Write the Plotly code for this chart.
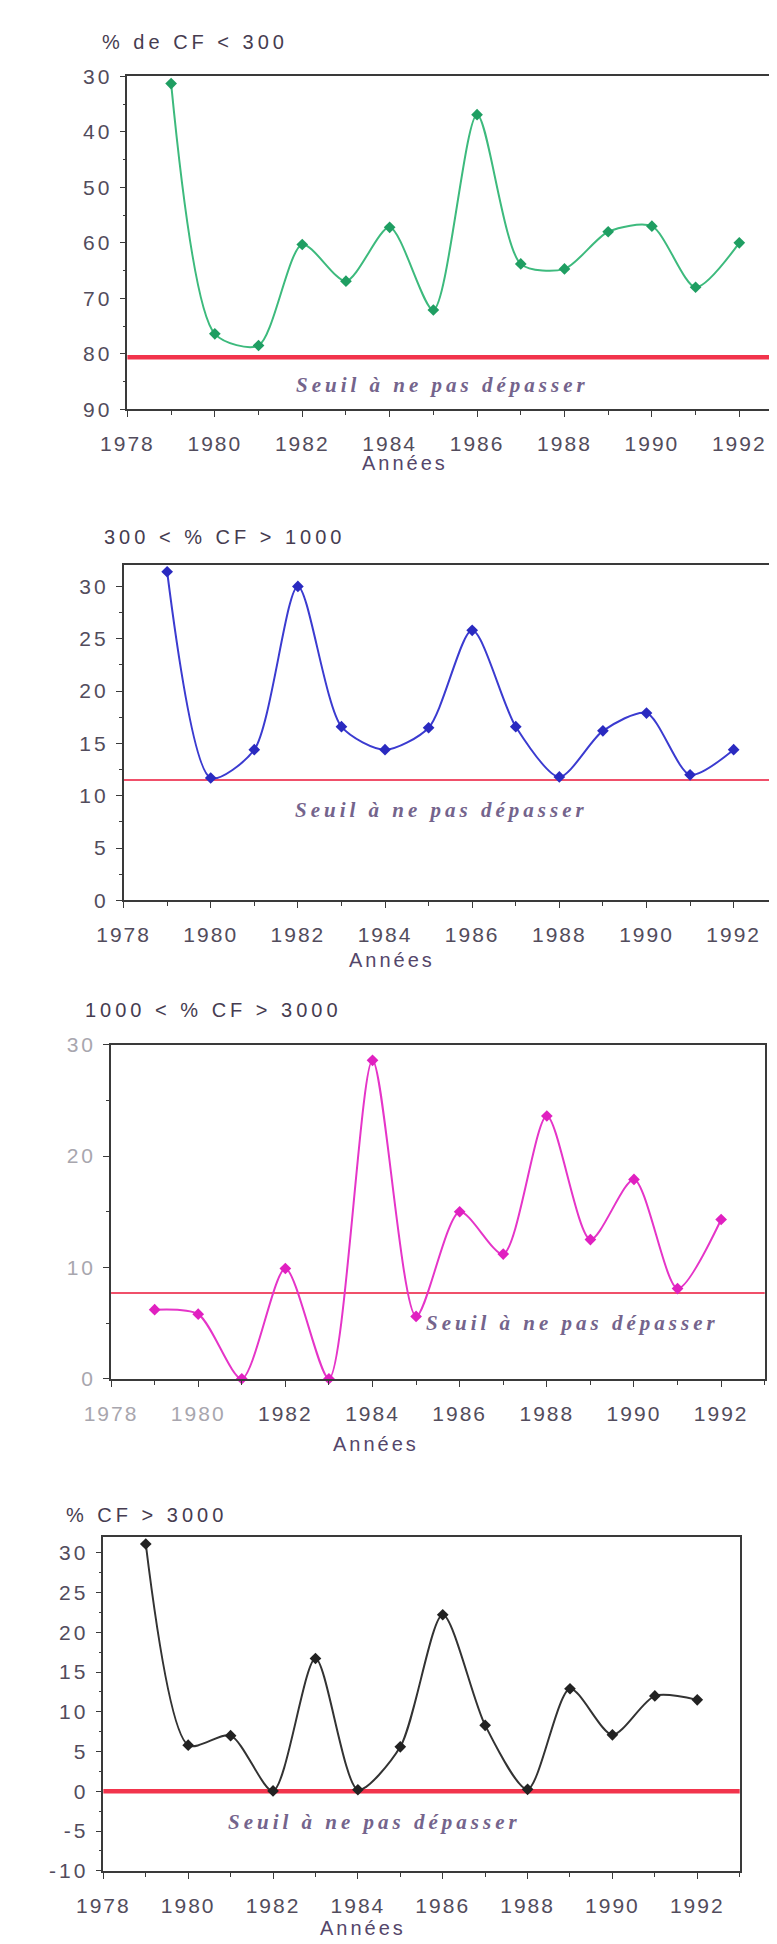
import plotly.graph_objects as go

# ---------------- data ----------------
years = list(range(1979, 1993))
pct_cf_lt_300 = [31.3, 76.4, 78.5, 60.3, 66.9, 57.2, 72.1, 36.9, 63.8, 64.7, 58.0, 57.0, 68.0, 60.0]
pct_cf_300_1000 = [31.4, 11.7, 14.4, 30.0, 16.6, 14.4, 16.5, 25.8, 16.6, 11.8, 16.2, 17.9, 12.0, 14.4]
pct_cf_1000_3000 = [6.2, 5.8, 0.0, 9.9, 0.0, 28.6, 5.6, 15.0, 11.2, 23.6, 12.5, 17.9, 8.1, 14.3]
pct_cf_gt_3000 = [31.1, 5.8, 7.0, 0.05, 16.7, 0.2, 5.6, 22.2, 8.3, 0.25, 12.9, 7.1, 12.0, 11.5]
thresholds = [80.6, 11.5, 7.7, 0.0]
titles = ["% de CF < 300", "300 < % CF > 1000", "1000 < % CF > 3000", "% CF > 3000"]
year_ticks = list(range(1978, 1993, 2))
x_label = "Années"
threshold_label = "Seuil à ne pas dépasser"

series = [pct_cf_lt_300, pct_cf_300_1000, pct_cf_1000_3000, pct_cf_gt_3000]

# ---------------- layout / style ----------------
W, H = 777, 1944
panels = [
    dict(left=96, right=777, top=57, bottom=394, yrange=[90, 30], dtick=10, minor=5,
         line="#3dba7d", marker="#1f9e62", thr_w=4.5, thr_c="#f2344c",
         seuil=(1985.2, 85.6), title=(68, 22), xlab=(384, 448), faded=False),
    dict(left=92, right=771, top=552, bottom=891, yrange=[0, 32], dtick=5, minor=2.5,
         line="#3b3bd0", marker="#2a2ac0", thr_w=2, thr_c="#f0506a",
         seuil=(1985.3, 8.6), title=(70, 523), xlab=(371, 951), faded=False),
    dict(left=79, right=758, top=1037, bottom=1375, yrange=[0, 30], dtick=10, minor=5,
         line="#e535c8", marker="#e020c0", thr_w=2, thr_c="#f0506a",
         seuil=(1988.6, 5.0), title=(50, 1002), xlab=(354, 1441), faded=True),
    dict(left=71, right=732, top=1535, bottom=1873, yrange=[-10, 32], dtick=5, minor=2.5,
         line="#333333", marker="#222222", thr_w=4.5, thr_c="#f2344c",
         seuil=(1984.4, -3.8), title=(30, 1513), xlab=(341, 1931), faded=False),
]

LABEL_C = "#524c5c"
FADED_C = "#a8a6ae"


def sp(text, ls, color=None):
    style = f"letter-spacing:{ls}px"
    if color:
        style += f";fill:{color}"
    return f'<span style="{style}">{text}</span>'


fig = go.Figure()
annotations = []
shapes = []
for i, (vals, p) in enumerate(zip(series, panels)):
    n = "" if i == 0 else str(i + 1)
    xa, ya = "x" + n, "y" + n
    fig.add_trace(go.Scatter(
        x=years, y=vals, mode="lines+markers", xaxis=xa, yaxis=ya,
        line=dict(color=p["line"], width=2, shape="spline", smoothing=0.75),
        marker=dict(symbol="diamond", size=9, color=p["marker"]),
        cliponaxis=False, showlegend=False, hoverinfo="x+y"))

    axis_common = dict(showline=True, linecolor="#3a3a3a", linewidth=1.6, mirror=True,
                       ticks="outside", ticklen=6, tickcolor="#3a3a3a", tickwidth=1.4,
                       showgrid=False, zeroline=False)
    xdom = [p["left"] / W, p["right"] / W]
    ydom = [1 - p["bottom"] / H, 1 - p["top"] / H]
    xt_text = []
    for y in year_ticks:
        c = FADED_C if (p["faded"] and y < 1982) else None
        xt_text.append(sp(str(y), 2, c))
    ticks = list(range(int(min(p["yrange"])), int(max(p["yrange"])) + 1, p["dtick"]))
    yt_text = [sp(str(t), 3, FADED_C if p["faded"] else None) for t in ticks]
    fig.update_layout(**{
        "xaxis" + n: dict(domain=xdom, anchor=ya, range=[1978, 1993],
                          tickmode="array", tickvals=year_ticks, ticktext=xt_text,
                          tickfont=dict(family="Liberation Sans, Arial", size=21, color=LABEL_C),
                          ticklabelstandoff=9,
                          minor=dict(dtick=1, ticks="outside", ticklen=4, tickcolor="#3a3a3a"),
                          **axis_common),
        "yaxis" + n: dict(domain=ydom, anchor=xa, range=p["yrange"],
                          tickmode="array", tickvals=ticks, ticktext=yt_text,
                          tickfont=dict(family="Liberation Sans, Arial", size=21, color=LABEL_C),
                          ticklabelstandoff=3,
                          minor=dict(tickmode="linear", tick0=0, dtick=p["minor"], ticks="outside",
                                     ticklen=3, tickcolor="#3a3a3a"),
                          **axis_common),
    })

    shapes.append(dict(type="line", xref=xa + " domain", yref=ya, x0=0, x1=1,
                       y0=thresholds[i], y1=thresholds[i],
                       line=dict(color=p["thr_c"], width=p["thr_w"]), layer="below"))
    annotations.append(dict(x=p["seuil"][0], y=p["seuil"][1], xref=xa, yref=ya,
                            text=sp(threshold_label, 4), showarrow=False,
                            font=dict(family="Liberation Serif, Times New Roman", size=21,
                                      color="#74648c", style="italic", weight="bold")))
    annotations.append(dict(x=p["title"][0] / W, y=1 - p["title"][1] / H, xref="paper", yref="paper",
                            xanchor="left", yanchor="middle", text=sp(titles[i], 4), showarrow=False,
                            font=dict(family="Liberation Sans, Arial", size=20, color="#463c50")))
    annotations.append(dict(x=p["xlab"][0] / W, y=1 - p["xlab"][1] / H, xref="paper", yref="paper",
                            xanchor="center", yanchor="middle", text=sp(x_label, 3), showarrow=False,
                            font=dict(family="Liberation Sans, Arial", size=20, color="#54466a")))

fig.update_layout(width=W, height=H, margin=dict(l=0, r=0, t=0, b=0),
                  paper_bgcolor="white", plot_bgcolor="white",
                  annotations=annotations, shapes=shapes, showlegend=False)

fig.write_html("out.html")
